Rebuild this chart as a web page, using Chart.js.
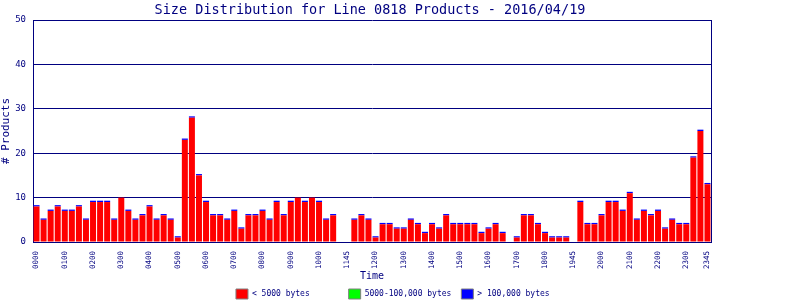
<!DOCTYPE html>
<html>
<head>
<meta charset="utf-8">
<script src="https://cdn.jsdelivr.net/npm/chart.js@4"></script>
<style>
body { margin: 0; background: #ffffff; }
</style>
</head>
<body>
<canvas id="sizeChart" width="800" height="300"></canvas>
<script>
// 96 quarter-hour slots, only some of them carry a label
var tickLabels = [
    "0000", "", "", "", "0100", "", "", "", "0200", "", "", "", "0300", "", "", "",
    "0400", "", "", "", "0500", "", "", "", "0600", "", "", "", "0700", "", "", "",
    "0800", "", "", "", "0900", "", "", "", "1000", "", "", "", "1145", "", "", "",
    "1200", "", "", "", "1300", "", "", "", "1400", "", "", "", "1500", "", "", "",
    "1600", "", "", "", "1700", "", "", "", "1800", "", "", "", "1945", "", "", "",
    "2000", "", "", "", "2100", "", "", "", "2200", "", "", "", "2300", "", "", "2345"
];

// < 5000 bytes
var smallFiles = [
    8, 5, 7, 8, 7, 7, 8, 5, 9, 9, 9, 5, 10, 7, 5, 6,
    8, 5, 6, 5, 1, 23, 28, 15, 9, 6, 6, 5, 7, 3, 6, 6,
    7, 5, 9, 6, 9, 10, 9, 10, 9, 5, 6, 0, 0, 5, 6, 5,
    1, 4, 4, 3, 3, 5, 4, 2, 4, 3, 6, 4, 4, 4, 4, 2,
    3, 4, 2, 0, 1, 6, 6, 4, 2, 1, 1, 1, 0, 9, 4, 4,
    6, 9, 9, 7, 11, 5, 7, 6, 7, 3, 5, 4, 4, 19, 25, 13
];

// 5000-100,000 bytes
var mediumFiles = [
    0, 0, 0, 0, 0, 0, 0, 0, 0, 0, 0, 0, 0, 0, 0, 0,
    0, 0, 0, 0, 0, 0, 0, 0, 0, 0, 0, 0, 0, 0, 0, 0,
    0, 0, 0, 0, 0, 0, 0, 0, 0, 0, 0, 0, 0, 0, 0, 0,
    0, 0, 0, 0, 0, 0, 0, 0, 0, 0, 0, 0, 0, 0, 0, 0,
    0, 0, 0, 0, 0, 0, 0, 0, 0, 0, 0, 0, 0, 0, 0, 0,
    0, 0, 0, 0, 0, 0, 0, 0, 0, 0, 0, 0, 0, 0, 0, 0
];

// > 100,000 bytes (thin cap on top of each bar)
var largeFiles = [
    0.3, 0.3, 0.3, 0.3, 0.3, 0.3, 0.3, 0.3, 0.3, 0.3, 0.3, 0.3, 0, 0.3, 0.3, 0.3,
    0.3, 0.3, 0.3, 0.3, 0.3, 0.3, 0.3, 0.3, 0.3, 0.3, 0.3, 0.3, 0.3, 0.3, 0.3, 0.3,
    0.3, 0.3, 0.3, 0.3, 0.3, 0, 0.3, 0, 0.3, 0.3, 0.3, 0, 0, 0.3, 0.3, 0.3,
    0.3, 0.3, 0.3, 0.3, 0.3, 0.3, 0.3, 0.3, 0.3, 0.3, 0.3, 0.3, 0.3, 0.3, 0.3, 0.3,
    0.3, 0.3, 0.3, 0, 0.3, 0.3, 0.3, 0.3, 0.3, 0.3, 0.3, 0.3, 0, 0.3, 0.3, 0.3,
    0.3, 0.3, 0.3, 0.3, 0.3, 0.3, 0.3, 0.3, 0.3, 0.3, 0.3, 0.3, 0.3, 0.3, 0.3, 0.3
];

var navy = '#000080';
var mono = 'DejaVu Sans Mono';

// centre the title over the plot area instead of the whole canvas
var titleOverPlot = {
    id: 'titleOverPlot',
    afterLayout: function (chart) {
        chart.titleBlock.left = 0;
        chart.titleBlock.right = chart.chartArea.right + chart.chartArea.left - 4;
    }
};

var config = {
    type: 'bar',
    data: {
        labels: tickLabels,
        datasets: [{
            label: '< 5000 bytes',
            data: smallFiles,
            backgroundColor: '#ff0000'
        }, {
            label: '5000-100,000 bytes',
            data: mediumFiles,
            backgroundColor: '#00ff00'
        }, {
            label: '> 100,000 bytes',
            data: largeFiles,
            backgroundColor: '#0000ff'
        }]
    },
    options: {
        responsive: false,
        animation: false,
        datasets: {
            bar: { barPercentage: 0.85, categoryPercentage: 1.0, borderWidth: 0, inflateAmount: 0 }
        },
        layout: { padding: { top: 0, left: 0, right: 0, bottom: -9 } },
        plugins: {
            title: {
                display: true,
                text: 'Size Distribution for Line 0818 Products - 2016/04/19',
                color: navy,
                font: { family: mono, size: 13.5, weight: 'normal' },
                padding: { top: 2, bottom: 1.8 }
            },
            legend: {
                position: 'bottom',
                labels: {
                    color: navy,
                    boxWidth: 12,
                    boxHeight: 10,
                    padding: 10,
                    font: { family: mono, size: 8 },
                    generateLabels: function (chart) {
                        var items = Chart.defaults.plugins.legend.labels.generateLabels(chart);
                        items.forEach(function (it) {
                            it.text = it.text.padEnd(18);
                            it.lineWidth = 1;
                            it.strokeStyle = '#808080';
                        });
                        return items;
                    }
                }
            },
            tooltip: { enabled: false }
        },
        scales: {
            x: {
                stacked: true,
                grid: { display: false },
                border: { color: navy },
                ticks: {
                    autoSkip: false,
                    minRotation: 90,
                    maxRotation: 90,
                    padding: 1,
                    color: navy,
                    font: { family: mono, size: 7.5 }
                },
                title: {
                    display: true,
                    text: 'Time',
                    color: navy,
                    font: { family: mono, size: 10 },
                    padding: { top: 0, bottom: -3 }
                },
                afterFit: function (scale) { scale.height = 37; }
            },
            y: {
                stacked: true,
                min: 0,
                max: 50,
                grid: { color: navy, drawTicks: false },
                border: { color: navy },
                ticks: {
                    stepSize: 10,
                    padding: 7,
                    color: navy,
                    font: { family: mono, size: 9 }
                },
                title: {
                    display: true,
                    text: '# Products',
                    color: navy,
                    font: { family: mono, size: 11 },
                    padding: 0
                },
                afterFit: function (scale) { scale.width = 33; }
            },
            y2: {
                position: 'right',
                min: 0,
                max: 50,
                grid: { display: false },
                border: { color: navy },
                ticks: { display: false },
                afterFit: function (scale) { scale.width = 89; }
            }
        }
    },
    plugins: [titleOverPlot]
};

var sizeChart = new Chart(document.getElementById('sizeChart'), config);
</script>
</body>
</html>
